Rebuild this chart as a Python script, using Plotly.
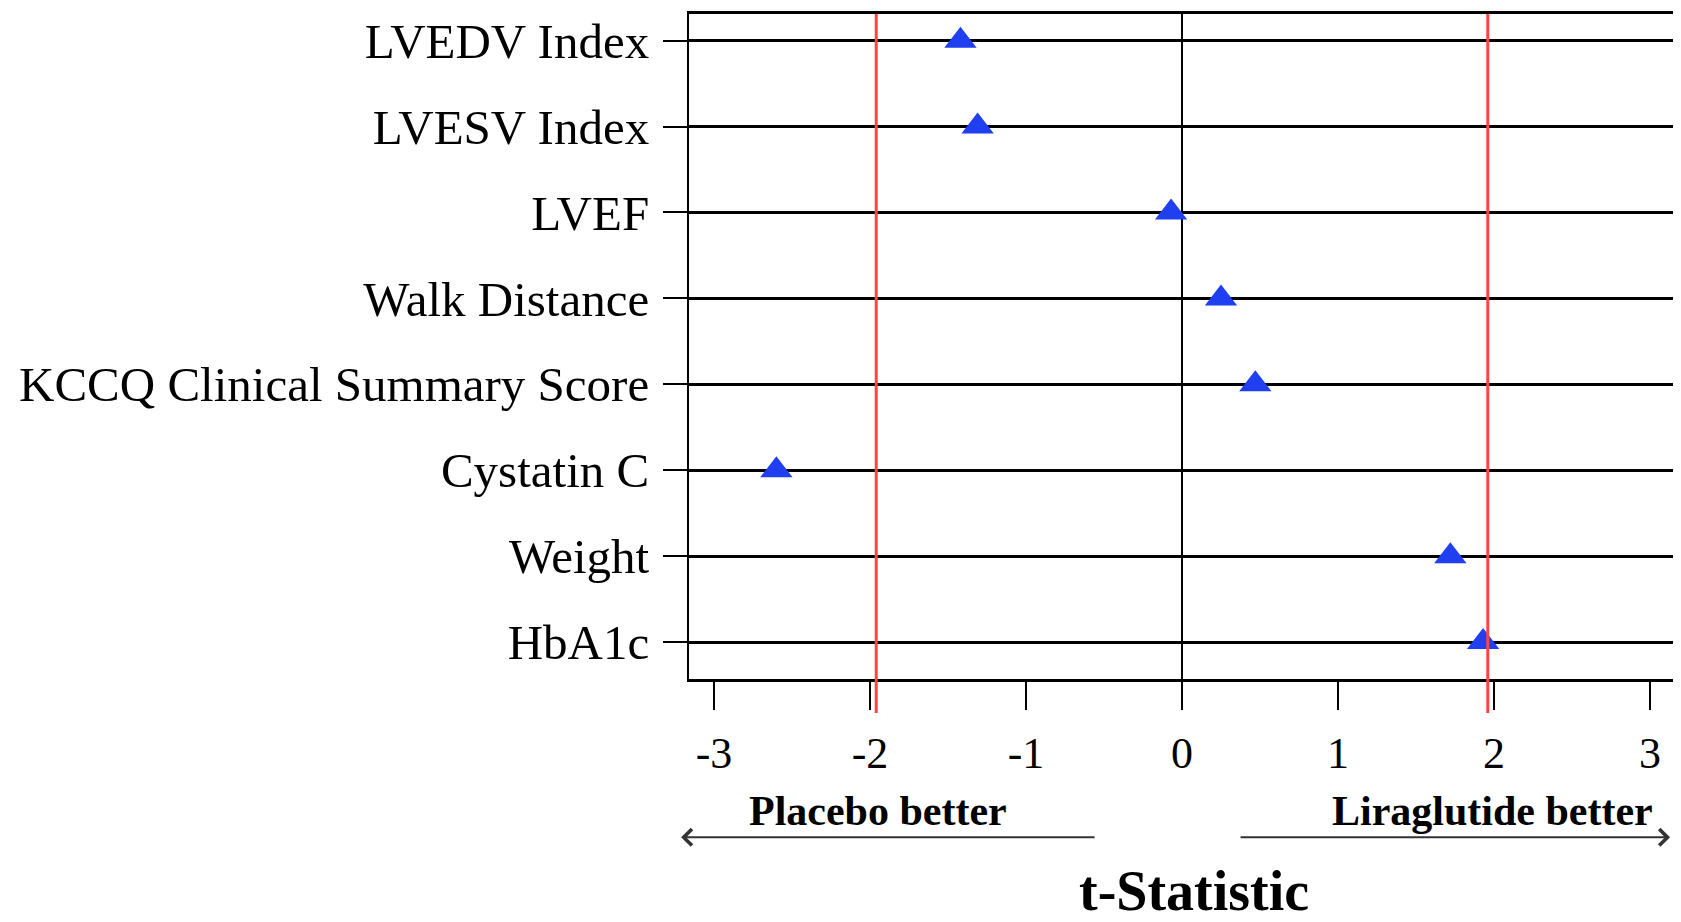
import plotly.graph_objects as go

# Data
outcomes = ["LVEDV Index", "LVESV Index", "LVEF", "Walk Distance",
            "KCCQ Clinical Summary Score", "Cystatin C", "Weight", "HbA1c"]
t_stat = [-1.42, -1.31, -0.07, 0.25, 0.47, -2.60, 1.72, 1.93]
x_tickvals = [-3, -2, -1, 0, 1, 2, 3]
x_ticktext = ["-3", "-2", "-1", "0", "1", "2", "3"]
crit_vals = [-1.96, 1.96]

SERIF = "Liberation Serif, Times New Roman, serif"

fig = go.Figure()
fig.add_trace(go.Scatter(
    x=t_stat, y=outcomes, mode="markers",
    marker=dict(symbol="triangle-up", size=28, color="#1f3ff0",
                line=dict(width=0)),
    showlegend=False, cliponaxis=False,
))

for cv in crit_vals:
    fig.add_shape(type="line", xref="x", yref="paper", x0=cv, x1=cv,
                  y0=-0.051, y1=1, line=dict(color="#ff4444", width=3),
                  layer="above")

# page body has an 8px default margin, so the figure is offset by 8px
fig.update_layout(
    width=1673, height=914,
    margin=dict(l=681, r=6, t=3, b=243),
    paper_bgcolor="white", plot_bgcolor="white",
    font=dict(family=SERIF, color="black"),
    xaxis=dict(
        range=[-3.16, 3.16], tickvals=x_tickvals, ticktext=x_ticktext,
        ticks="outside", ticklen=28, tickwidth=2, tickcolor="black",
        showline=True, linecolor="black", linewidth=3, mirror=True,
        showgrid=False, zeroline=True, zerolinecolor="black", zerolinewidth=2,
        tickfont=dict(family=SERIF, size=44, color="black"),
        ticklabelstandoff=5,
    ),
    yaxis=dict(
        type="category", categoryorder="array", categoryarray=outcomes,
        range=[7.43, -0.31],
        ticks="outside", ticklen=24, tickwidth=2, tickcolor="black",
        showline=True, linecolor="black", linewidth=2, mirror=True,
        showgrid=True, gridcolor="black", gridwidth=2.5,
        tickfont=dict(family=SERIF, size=49, color="black"),
        ticklabelstandoff=4,
    ),
)

# Axis title, direction labels and arrows
fig.add_annotation(x=0.512, y=-0.319, xref="paper", yref="paper",
                   xanchor="center", yanchor="middle",
                   text="<b>t-Statistic</b>", showarrow=False,
                   font=dict(family=SERIF, size=56, color="black"))
fig.add_annotation(x=0.192, y=-0.198, xref="paper", yref="paper",
                   xanchor="center", yanchor="middle",
                   text="<b>Placebo better</b>", showarrow=False,
                   font=dict(family=SERIF, size=42, color="black"))
fig.add_annotation(x=0.815, y=-0.198, xref="paper", yref="paper",
                   xanchor="center", yanchor="middle",
                   text="<b>Liraglutide better</b>", showarrow=False,
                   font=dict(family=SERIF, size=42, color="black"))
fig.add_annotation(x=-0.008, y=-0.238, xref="paper", yref="paper",
                   text="", showarrow=True, ax=415, ay=0,
                   arrowhead=4, arrowsize=1.6, arrowwidth=2, arrowcolor="#333333")
fig.add_annotation(x=0.995, y=-0.238, xref="paper", yref="paper",
                   text="", showarrow=True, ax=-431, ay=0,
                   arrowhead=4, arrowsize=1.6, arrowwidth=2, arrowcolor="#333333")

fig.write_html("out.html")
